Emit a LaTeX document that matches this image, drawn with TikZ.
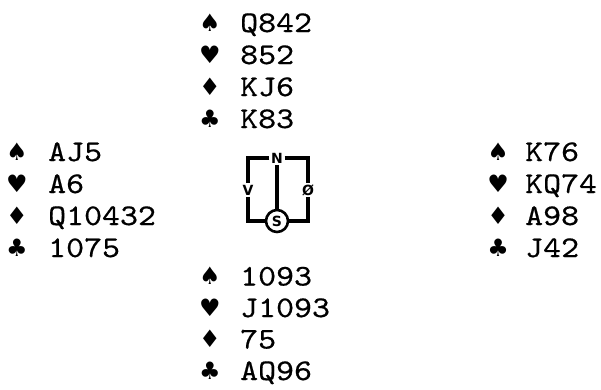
\documentclass[tikz,border=0pt]{standalone}
\usepackage{fontspec}
\newfontfamily\cardfont{lmmono10-regular.otf}[FakeStretch=1.14,FakeBold=0.5]
\newfontfamily\suitfont{DejaVu Sans}
\newfontfamily\compfont{DejaVu Sans}
\tikzset{
  suit/.style={anchor=base,inner sep=0pt,font=\suitfont\fontsize{24}{24}\selectfont},
  cards/.style={anchor=base west,inner sep=0pt,font=\cardfont\fontsize{30}{30}\selectfont},
  dir/.style={inner sep=1.5pt,font=\compfont\bfseries\fontsize{14}{14}\selectfont},
  wire/.style={line width=3.2pt}
}
\begin{document}
\begin{tikzpicture}[x=1pt,y=-1pt]
\useasboundingbox (0,0) rectangle (601,389);
% the four hands
\foreach \s/\h [count=\i] in {♠/Q842,♥/852,♦/KJ6,♣/K83} {
  \node[suit] (ns\i) at (210,32*\i-1) {\s};
  \node[cards] (nc\i) at (240,32*\i) {\h};
}
\foreach \s/\h [count=\i from 5] in {♠/AJ5,♥/A6,♦/Q10432,♣/1075} {
  \node[suit] (ws\i) at (17,32*\i) {\s};
  \node[cards] (wc\i) at (48,32*\i+1) {\h};
}
\foreach \s/\h [count=\i from 5] in {♠/K76,♥/KQ74,♦/A98,♣/J42} {
  \node[suit] (es\i) at (498,32*\i) {\s};
  \node[cards] (ec\i) at (525,32*\i+1) {\h};
}
\foreach \s/\h [count=\i from 9] in {♠/1093,♥/J1093,♦/75,♣/AQ96} {
  \node[suit] (ss\i) at (210,31.5*\i+1) {\s};
  \node[cards] (sc\i) at (240,31.5*\i+2) {\h};
}
% compass
\node[dir] (dn) at (277,158) {N};
\node[dir] (dv) at (248,190) {V};
\node[dir] (dø) at (308,190) {Ø};
\node[dir,draw,circle,line width=2.6pt,inner sep=1pt,minimum size=22pt] (ds) at (277,221) {S};
\draw[wire] (dn) -| (dv);
\draw[wire] (dn) -| (dø);
\draw[wire] (dv) |- (ds);
\draw[wire] (dø) |- (ds);
\draw[wire] (dn) -- (ds);
\end{tikzpicture}
\end{document}
